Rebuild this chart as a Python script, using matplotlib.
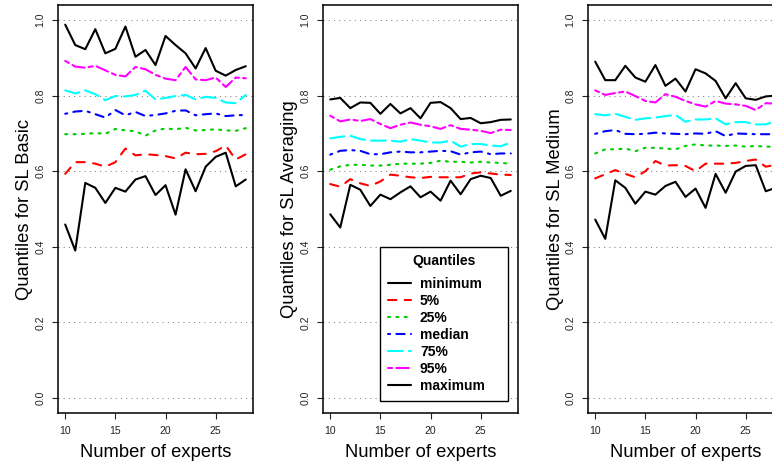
import matplotlib
matplotlib.use("Agg")
import matplotlib.pyplot as plt
from matplotlib.transforms import Bbox

plt.rcParams['font.family'] = ['Liberation Sans', 'DejaVu Sans']

experts = list(range(10, 29))

basic_min = [0.459, 0.390, 0.569, 0.556, 0.516, 0.556, 0.546, 0.578, 0.587, 0.537,
             0.563, 0.485, 0.605, 0.547, 0.612, 0.638, 0.649, 0.560, 0.578]
basic_q05 = [0.593, 0.624, 0.624, 0.620, 0.612, 0.624, 0.660, 0.642, 0.645, 0.643,
             0.640, 0.634, 0.649, 0.645, 0.646, 0.653, 0.668, 0.631, 0.645]
basic_q25 = [0.698, 0.698, 0.699, 0.701, 0.699, 0.712, 0.708, 0.706, 0.694, 0.708,
             0.713, 0.711, 0.715, 0.708, 0.709, 0.711, 0.708, 0.707, 0.714]
basic_median = [0.752, 0.758, 0.760, 0.751, 0.742, 0.762, 0.748, 0.757, 0.746, 0.749,
                0.753, 0.760, 0.761, 0.748, 0.751, 0.753, 0.746, 0.748, 0.749]
basic_q75 = [0.814, 0.806, 0.814, 0.804, 0.788, 0.799, 0.798, 0.802, 0.813, 0.790,
             0.794, 0.799, 0.802, 0.790, 0.797, 0.794, 0.782, 0.780, 0.802]
basic_q95 = [0.892, 0.877, 0.874, 0.879, 0.867, 0.855, 0.851, 0.876, 0.870, 0.855,
             0.845, 0.841, 0.876, 0.843, 0.841, 0.848, 0.823, 0.848, 0.846]
basic_max = [0.988, 0.934, 0.923, 0.976, 0.912, 0.924, 0.983, 0.903, 0.921, 0.881,
             0.958, 0.934, 0.912, 0.872, 0.926, 0.866, 0.853, 0.868, 0.878]

avg_min = [0.486, 0.451, 0.564, 0.551, 0.508, 0.538, 0.526, 0.544, 0.560, 0.531,
           0.546, 0.522, 0.575, 0.539, 0.579, 0.588, 0.582, 0.535, 0.548]
avg_q05 = [0.566, 0.559, 0.579, 0.568, 0.561, 0.573, 0.591, 0.588, 0.584, 0.582,
           0.585, 0.584, 0.584, 0.584, 0.594, 0.597, 0.594, 0.591, 0.590]
avg_q25 = [0.604, 0.613, 0.617, 0.617, 0.615, 0.615, 0.617, 0.620, 0.620, 0.620,
           0.622, 0.628, 0.625, 0.625, 0.623, 0.625, 0.623, 0.622, 0.620]
avg_median = [0.644, 0.654, 0.656, 0.654, 0.645, 0.645, 0.650, 0.652, 0.650, 0.650,
              0.652, 0.654, 0.653, 0.644, 0.650, 0.652, 0.645, 0.647, 0.647]
avg_q75 = [0.687, 0.691, 0.694, 0.685, 0.681, 0.681, 0.681, 0.678, 0.685, 0.681,
           0.676, 0.676, 0.681, 0.665, 0.672, 0.672, 0.668, 0.666, 0.676]
avg_q95 = [0.747, 0.732, 0.737, 0.733, 0.738, 0.725, 0.714, 0.723, 0.729, 0.723,
           0.719, 0.712, 0.722, 0.712, 0.710, 0.707, 0.701, 0.710, 0.709]
avg_max = [0.790, 0.794, 0.767, 0.782, 0.781, 0.752, 0.778, 0.753, 0.767, 0.740,
           0.781, 0.783, 0.767, 0.738, 0.741, 0.727, 0.730, 0.736, 0.737]

med_min = [0.472, 0.421, 0.576, 0.556, 0.514, 0.546, 0.538, 0.561, 0.572, 0.532,
           0.554, 0.503, 0.593, 0.543, 0.599, 0.614, 0.616, 0.547, 0.556]
med_q05 = [0.581, 0.592, 0.603, 0.593, 0.584, 0.600, 0.627, 0.615, 0.616, 0.614,
           0.600, 0.620, 0.620, 0.620, 0.622, 0.627, 0.631, 0.612, 0.617]
med_q25 = [0.647, 0.658, 0.658, 0.660, 0.653, 0.662, 0.662, 0.660, 0.658, 0.667,
           0.671, 0.668, 0.668, 0.667, 0.668, 0.665, 0.667, 0.665, 0.665]
med_median = [0.699, 0.706, 0.709, 0.699, 0.698, 0.699, 0.702, 0.700, 0.699, 0.698,
              0.700, 0.699, 0.706, 0.693, 0.700, 0.699, 0.698, 0.698, 0.698]
med_q75 = [0.751, 0.748, 0.752, 0.744, 0.736, 0.740, 0.742, 0.746, 0.749, 0.731,
           0.737, 0.737, 0.740, 0.724, 0.730, 0.730, 0.724, 0.724, 0.733]
med_q95 = [0.814, 0.802, 0.807, 0.811, 0.799, 0.786, 0.782, 0.804, 0.797, 0.786,
           0.777, 0.771, 0.786, 0.779, 0.777, 0.773, 0.762, 0.780, 0.779]
med_max = [0.890, 0.841, 0.841, 0.879, 0.848, 0.837, 0.881, 0.826, 0.845, 0.811,
           0.870, 0.859, 0.839, 0.793, 0.833, 0.793, 0.789, 0.798, 0.800]

quantile_names = ["minimum", "5%", "25%", "median", "75%", "95%", "maximum"]
panel_titles = ["Quantiles for SL Basic", "Quantiles for SL Averaging", "Quantiles for SL Medium"]

# R palette 1..6 then black again, lty 1..6 then solid
COLORS = ["black", "#FF0000", "#00CD00", "#0000FF", "#00FFFF", "#FF00FF", "black"]
DASHES = [None, (4, 4), (1, 3), (1, 3, 4, 3), (7, 3), (2, 2, 6, 2), None]

W, H = 772, 465
PANEL_LEFT = [58, 323, 588]
PANEL_W = 195
TOP, BOTTOM = 5, 413


def line_style(d):
    return "-" if d is None else (0, d)


def draw_panel(fig, i, series):
    left = PANEL_LEFT[i]
    ax = fig.add_axes([left / W, (H - BOTTOM) / H, PANEL_W / W, (BOTTOM - TOP) / H])
    for vals, c, d in zip(series, COLORS, DASHES):
        ax.plot(experts, vals, color=c, lw=1.5, linestyle=line_style(d),
                dash_capstyle="round", solid_capstyle="round", solid_joinstyle="round")
    for g in [0.0, 0.2, 0.4, 0.6, 0.8, 1.0]:
        ax.axhline(g, color="#808080", lw=0.75, linestyle=(0, (1, 4)), zorder=0)
    ax.set_xlim(9.28, 28.72)
    ax.set_ylim(-0.04, 1.04)
    ax.set_xticks([10, 15, 20, 25])
    ax.set_yticks([0.0, 0.2, 0.4, 0.6, 0.8, 1.0])
    ax.set_yticklabels(["0.0", "0.2", "0.4", "0.6", "0.8", "1.0"])
    ax.tick_params(axis="both", direction="out", length=4, width=0.8,
                   labelsize=7.5, pad=5, colors="#222222")
    ax.tick_params(axis="y", labelrotation=90)
    for lab in ax.get_yticklabels():
        lab.set_va("center")
    for s in ax.spines.values():
        s.set_linewidth(1.1)

    ax.text(0.5, (BOTTOM - 452) / (BOTTOM - TOP), "Number of experts",
            transform=ax.transAxes, ha="center", va="center", fontsize=13.2)

    # y label is cut off by the left edge of its panel region
    yl = fig.text((left - 33) / W, 1 - (TOP + BOTTOM) / 2 / H, panel_titles[i],
                  rotation=90, ha="center", va="center", fontsize=13.2)
    region = Bbox([[(left - 46) / W, 0], [(left + 200) / W, 1]])
    yl.set_clip_box(fig.transFigure.transform_bbox(region))
    yl.set_clip_on(True)
    return ax


def main():
    fig = plt.figure(figsize=(W / 100, H / 100), dpi=100)
    panels = [
        [basic_min, basic_q05, basic_q25, basic_median, basic_q75, basic_q95, basic_max],
        [avg_min, avg_q05, avg_q25, avg_median, avg_q75, avg_q95, avg_max],
        [med_min, med_q05, med_q25, med_median, med_q75, med_q95, med_max],
    ]
    axes = [draw_panel(fig, i, s) for i, s in enumerate(panels)]

    ax = axes[1]
    handles = ax.get_lines()[:7]
    leg = ax.legend(handles, quantile_names, title="Quantiles", loc="upper left",
                    bbox_to_anchor=(15, 0.0, 12.7, 0.4), bbox_transform=ax.transData,
                    mode="expand", borderaxespad=0, fancybox=False, edgecolor="black",
                    framealpha=1, prop={"weight": "bold", "size": 10},
                    title_fontproperties={"weight": "bold", "size": 10},
                    handlelength=1.65, handletextpad=0.65, borderpad=0.55,
                    labelspacing=0.22)
    leg.get_frame().set_linewidth(1.0)
    # a little more room between the title and the first entry
    leg._legend_box.sep = 6

    fig.savefig("out.png", dpi=100)


if __name__ == "__main__":
    main()
